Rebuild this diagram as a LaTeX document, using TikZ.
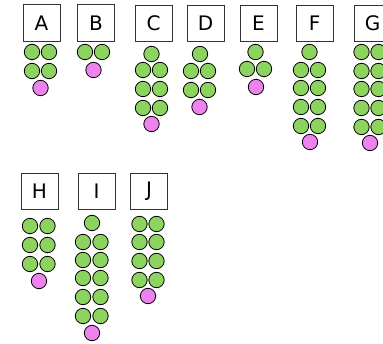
\documentclass[tikz,border=0pt]{standalone}
\usepackage{fontspec}
\setmainfont{DejaVu Sans}
\definecolor{gfill}{HTML}{8DD35F}
\definecolor{pfill}{HTML}{EE82EE}
\definecolor{boxline}{HTML}{333333}
\begin{document}
\begin{tikzpicture}[x=1pt,y=-1pt,
  lbox/.style={draw=boxline,line width=0.9pt,minimum width=37pt,minimum height=36.5pt,inner sep=0pt,font=\fontsize{20}{20}\selectfont},
  gdot/.style={circle,draw=black,line width=0.8pt,fill=gfill,minimum size=15.4pt,inner sep=0pt},
  pdot/.style={circle,draw=black,line width=0.8pt,fill=pfill,minimum size=15.4pt,inner sep=0pt}]
\useasboundingbox (0,0) rectangle (383,344);
% label boxes
\foreach \n/\x/\y in {A/41.5/23, B/96/23, C/153.5/23.5, D/205.5/23.5, E/258.5/23.5, F/314.5/23.5, G/372.5/23.5, H/39.5/191.5, I/96.5/191.5, J/149/191.5}
  \node[lbox] (box\n) at (\x,\y) {\n};
% green dots
\foreach \n/\x/\y in {
  a1/32/52, a2/49/52, a3/32/71, a4/49/71,
  b1/85/52, b2/102/52,
  c0/151.5/54, c1/143/70, c2/160/70, c3/143/89, c4/160/89, c5/143/108, c6/160/108,
  d0/200/54, d1/191/71, d2/208/71, d3/191/90, d4/208/90,
  e0/255.5/52, e1/247/69, e2/264/69,
  f0/309.5/52, f1/301/70, f2/318/70, f3/301/88, f4/318/88, f5/301/107, f6/318/107, f7/301/126, f8/318/126,
  g1/361.5/52, g2/378.5/52, g3/361.5/71, g4/378.5/71, g5/361.5/89, g6/378.5/89, g7/361.5/108, g8/378.5/108, g9/361.5/127, g10/378.5/127,
  h1/30/226, h2/47.5/226, h3/30/245, h4/47.5/245, h5/30/264, h6/47.5/264,
  i0/92/223, i1/83/242, i2/100.5/242, i3/83/260, i4/100.5/260, i5/83/278, i6/100.5/278, i7/83/297, i8/100.5/297, i9/83/316, i10/100.5/316,
  j1/139.5/224, j2/156.5/224, j3/139.5/242, j4/156.5/242, j5/139.5/261, j6/156.5/261, j7/139.5/280, j8/156.5/280}
  \node[gdot] (\n) at (\x,\y) {};
% pink dots
\foreach \n/\x/\y in {ap/40.5/88, bp/93.5/70, cp/151.5/124, dp/199.5/107, ep/256/87, fp/310/142, gp/370/143, hp/39/281, ip/92/333, jp/148/296}
  \node[pdot] (\n) at (\x,\y) {};
\end{tikzpicture}
\end{document}
